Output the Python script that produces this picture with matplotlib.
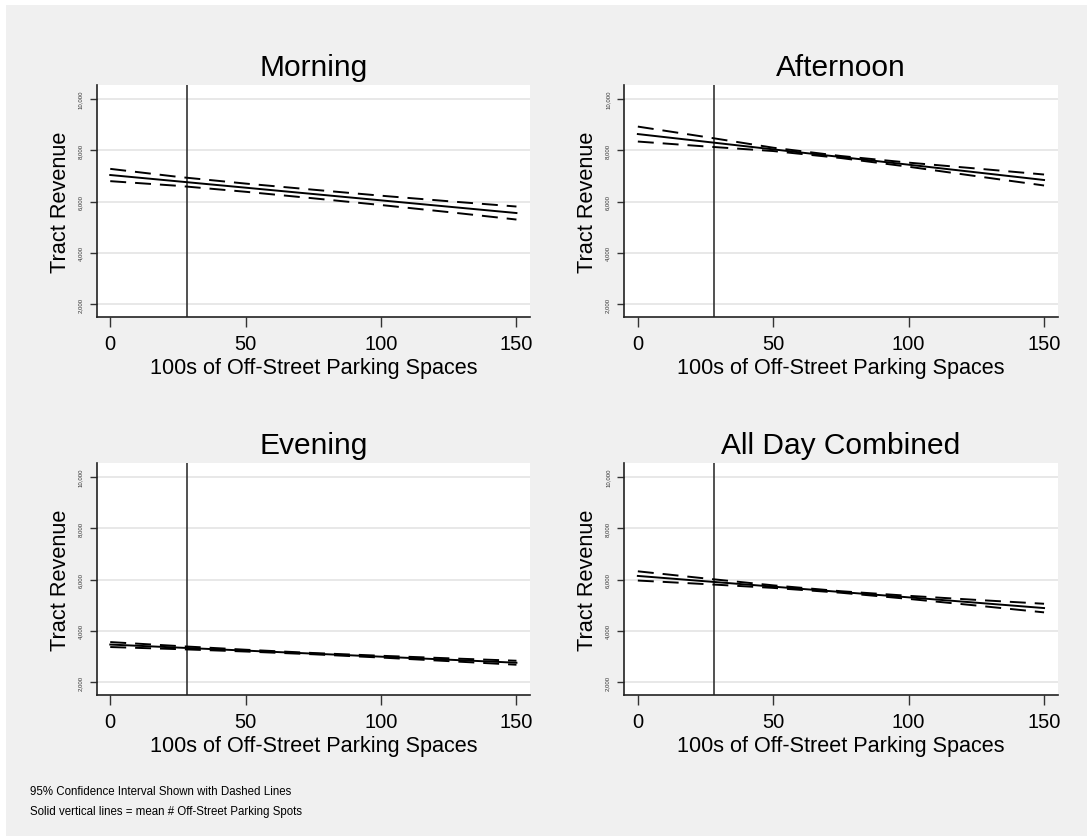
import matplotlib
matplotlib.use("Agg")
import matplotlib.pyplot as plt
from matplotlib.patches import Rectangle

plt.rcParams['font.family'] = ['Liberation Sans', 'DejaVu Sans']

# ---- data ----
titles = ["Morning", "Afternoon", "Evening", "All Day Combined"]
x_fit = [0, 150]
x_ci = [0, 25, 50, 75, 100, 125, 150]
mean_spaces = 28.3

fit_morning = [7035, 5550]
upper_morning = [7275, 6963, 6700, 6461, 6227, 6010, 5804]
lower_morning = [6795, 6613, 6380, 6125, 5863, 5586, 5296]

fit_afternoon = [8634, 6840]
upper_afternoon = [8926, 8520, 8101, 7777, 7518, 7289, 7054]
lower_afternoon = [8342, 8150, 7971, 7697, 7358, 6989, 6626]

fit_evening = [3460, 2750]
upper_evening = [3557, 3402, 3258, 3130, 3022, 2923, 2828]
lower_evening = [3363, 3282, 3188, 3080, 2952, 2813, 2672]

fit_allday = [6140, 4885]
upper_allday = [6320, 6041, 5772, 5543, 5363, 5204, 5053]
lower_allday = [5960, 5821, 5672, 5483, 5243, 4984, 4717]

fits = [fit_morning, fit_afternoon, fit_evening, fit_allday]
uppers = [upper_morning, upper_afternoon, upper_evening, upper_allday]
lowers = [lower_morning, lower_afternoon, lower_evening, lower_allday]

xticks = [0, 50, 100, 150]
yticks = [2000, 4000, 6000, 8000, 10000]
ytick_labels = ["2,000", "4,000", "6,000", "8,000", "10,000"]

xlabel = "100s of Off-Street Parking Spaces"
ylabel = "Tract Revenue"
notes = ["95% Confidence Interval Shown with Dashed Lines",
         "Solid vertical lines = mean # Off-Street Parking Spots"]

# ---- figure ----
W, H = 1087, 837
fig = plt.figure(figsize=(W / 100, H / 100), dpi=100, facecolor="white")
fig.patches.append(Rectangle((6 / W, 0), 1 - 6 / W, 1 - 6 / H, transform=fig.transFigure,
                             facecolor="#f0f0f0", edgecolor="none", zorder=-10))

lefts = [96.7, 624.3]
tops = [86, 464]
aw, ah = 433.3, 232

for i in range(4):
    r, c = divmod(i, 2)
    l = lefts[c]
    t = tops[r]
    ax = fig.add_axes([l / W, 1 - (t + ah) / H, aw / W, ah / H])
    ax.set_facecolor("white")
    ax.set_xlim(-5, 155)
    ax.set_ylim(1490, 10550)
    for yv in yticks:
        ax.axhline(yv, color="#e6e6e6", lw=1.3, zorder=1)
    ax.axvline(mean_spaces, color="#333333", lw=1.2, zorder=2)
    ax.plot(x_fit, fits[i], color="black", lw=1.4, zorder=3)
    for ys in (uppers[i], lowers[i]):
        ln, = ax.plot(x_ci, ys, color="black", lw=1.4, zorder=3)
        ln.set_dashes((8.2, 4.6))
    for s in ("top", "right"):
        ax.spines[s].set_visible(False)
    for s in ("left", "bottom"):
        ax.spines[s].set_color("#222222")
        ax.spines[s].set_linewidth(1.2)
    ax.set_xticks(xticks)
    ax.set_xticklabels([str(v) for v in xticks], fontsize=14.5)
    ax.set_yticks(yticks)
    ax.set_yticklabels(ytick_labels, fontsize=4.3, color="#333333",
                       rotation=90, va="center", ha="right")
    ax.tick_params(axis="x", length=7, width=1.0, color="#333333", pad=5)
    ax.tick_params(axis="y", length=5, width=1.0, color="#333333", pad=5)
    ax.set_xlabel(xlabel, fontsize=15.6, labelpad=3)
    ax.set_ylabel(ylabel, fontsize=15.7, labelpad=5)
    ax.set_title(titles[i], fontsize=21.5, pad=7)

fig.text(30 / W, 1 - 792 / H, notes[0], fontsize=8.3, va="center", ha="left")
fig.text(30 / W, 1 - 812 / H, notes[1], fontsize=8.3, va="center", ha="left")

fig.savefig("out.png", dpi=100, facecolor=fig.get_facecolor())
